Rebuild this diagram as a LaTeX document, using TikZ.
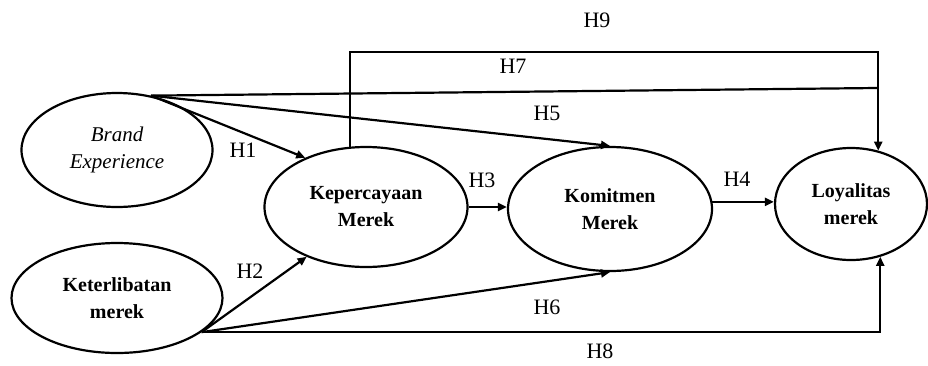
\documentclass[tikz,border=0pt]{standalone}
\usepackage{fontspec}
\setmainfont{Liberation Serif}
\usetikzlibrary{shapes.geometric,arrows.meta}

\begin{document}
\begin{tikzpicture}[
    x=1pt, y=-1pt,
    var/.style={ellipse, draw, line width=2.2pt, inner sep=0pt, align=center, font=\fontsize{20}{27}\selectfont\bfseries},
    hyp/.style={font=\fontsize{22}{24}\selectfont},
    arrow/.style={-{Triangle[length=9pt,width=8pt]}, line width=2.2pt},
    plain/.style={line width=2.2pt}
]
\useasboundingbox (0,0) rectangle (928,365);

% Variables
\node[var, minimum width=191pt, minimum height=114pt] (brand) at (117,150) {\mdseries\itshape\fontsize{21}{27}\selectfont Brand\\\mdseries\itshape\fontsize{21}{27}\selectfont Experience};
\node[var, minimum width=211pt, minimum height=110pt] (libat) at (117,298) {Keterlibatan\\merek};
\node[var, minimum width=203pt, minimum height=120pt] (percaya) at (366,207) {Kepercayaan\\Merek};
\node[var, minimum width=204pt, minimum height=124pt] (komit) at (610,209) {Komitmen\\Merek};
\node[var, minimum width=152pt, minimum height=112pt] (loyal) at (851,204) {Loyalitas\\merek};

% Connection points
\coordinate (brandout) at (brand.58);
\coordinate (libatout) at (libat.-22);
\coordinate (h9top) at (600,52);
\coordinate (h7end) at (877,88);

% Hypotheses labels
\node[hyp] (h1) at (243,150) {H1};
\node[hyp] (h2) at (250,271) {H2};
\node[hyp] (h3) at (482,180) {H3};
\node[hyp] (h4) at (737,179) {H4};
\node[hyp] (h5) at (547,113) {H5};
\node[hyp] (h6) at (547,307) {H6};
\node[hyp] (h7) at (513,66) {H7};
\node[hyp] (h8) at (600,351) {H8};
\node[hyp] (h9) at (597,20) {H9};

% Connections
\draw[arrow] (brandout) -- (percaya.141);
\draw[arrow] (libatout) -- (percaya.220);
\draw[arrow] (percaya.east) -- (percaya.east -| komit.west);
\draw[arrow] (komit.4) -- (komit.4 -| loyal.west);
\draw[arrow] (brandout) -- (komit.north);
\draw[arrow] (libatout) -- (komit.south);
\draw[plain] (brandout) -- (h7end);
\draw[arrow] (libatout) -| (loyal.-61);
\draw[arrow] (percaya.105) |- (h9top) -| (loyal.63);

\end{tikzpicture}
\end{document}
